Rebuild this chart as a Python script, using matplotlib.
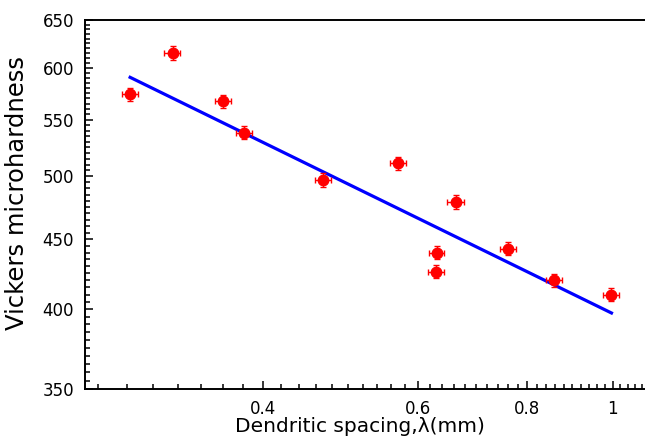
import numpy as np
import matplotlib
matplotlib.use('Agg')
import matplotlib.pyplot as plt
from matplotlib.ticker import NullFormatter

# Dendritic spacing (mm) vs Vickers microhardness
spacing = [0.2825, 0.3157, 0.3607, 0.3808, 0.4687, 0.570, 0.6627, 0.6305, 0.630, 0.761, 0.858, 0.997]
hardness = [574, 615, 567, 538, 497, 511, 479, 440, 426, 443, 420, 410]
spacing_err = [0.006, 0.0066, 0.0075, 0.008, 0.0098, 0.012, 0.014, 0.013, 0.013, 0.016, 0.018, 0.021]
hardness_err = [6.3, 6.8, 6.2, 5.9, 5.5, 5.6, 5.3, 4.8, 4.7, 4.9, 4.6, 4.5]

# power-law fit line end points
fit_x = [0.2825, 0.997]
fit_y = [590.4, 397.6]

x_ticks = [0.4, 0.6, 0.8, 1.0]
x_tick_labels = ['0.4', '0.6', '0.8', '1']
y_ticks = [350, 400, 450, 500, 550, 600, 650]

plt.rcParams['font.family'] = ['DejaVu Sans']

fig = plt.figure(figsize=(6.45, 4.46), dpi=100)
ax = fig.add_axes([85 / 645, 1 - 389 / 446, 564 / 645, 369 / 446])

ax.plot(fit_x, fit_y, color='#0000ff', linewidth=2.3, zorder=2)
ax.errorbar(spacing, hardness, xerr=spacing_err, yerr=hardness_err, fmt='o',
            color='#ff0000', ecolor='#ff0000', markersize=7.5, elinewidth=1,
            capsize=2.5, capthick=1, zorder=3)

ax.set_xscale('log')
ax.set_yscale('log')
ax.set_xlim(0.251, 1.1)
ax.set_ylim(350, 650)

ax.set_xticks(x_ticks)
ax.set_xticklabels(x_tick_labels)
ax.set_xticks(np.arange(0.26, 1.1, 0.02), minor=True)
ax.xaxis.set_minor_formatter(NullFormatter())

ax.set_yticks(y_ticks)
ax.set_yticklabels([str(v) for v in y_ticks])
ax.set_yticks(np.arange(355, 650, 5), minor=True)
ax.yaxis.set_minor_formatter(NullFormatter())

ax.tick_params(which='both', direction='in', top=False, right=False, width=1.1)
ax.tick_params(which='major', length=6, labelsize=12, pad=8)
ax.tick_params(which='minor', length=3.5)
for side in ax.spines:
    ax.spines[side].set_linewidth(1.4)

fig.text(360 / 645, 1 - 427 / 446, 'Dendritic spacing,\u03bb(mm)', fontsize=14.5,
         ha='center', va='center')
fig.text(17 / 645, 1 - 193 / 446, 'Vickers microhardness', fontsize=17.5,
         ha='center', va='center', rotation=90)

fig.savefig('out.png', dpi=100)
